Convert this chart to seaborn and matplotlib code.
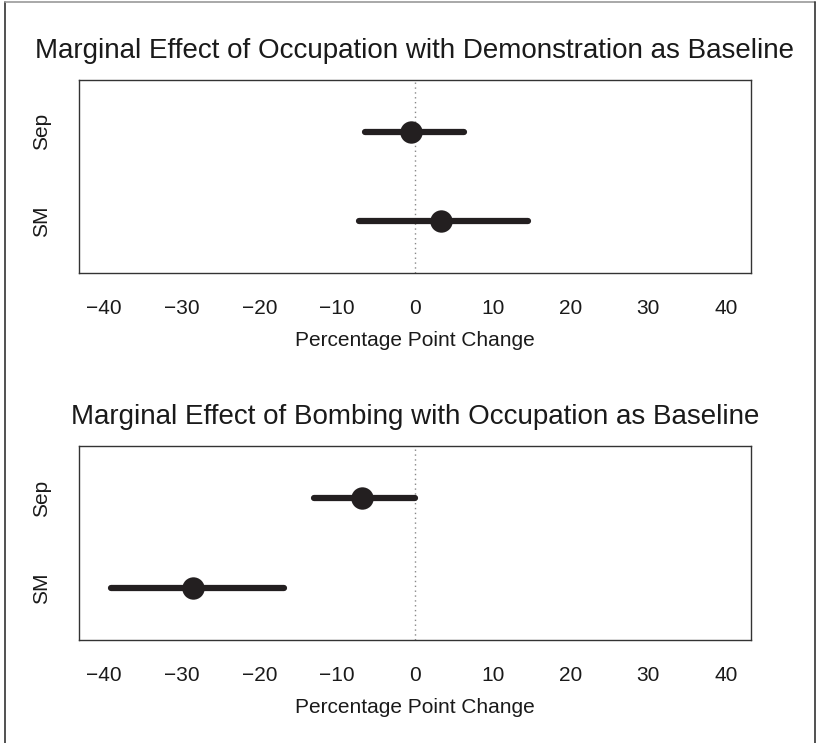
import matplotlib
matplotlib.use("Agg")
import matplotlib.pyplot as plt
from matplotlib.lines import Line2D
import seaborn as sns
import pandas as pd

# Estimates (percentage points) with confidence bounds, one list per panel
categories = ["SM", "Sep"]

occ_est = [3.4, -0.5]
occ_lo = [-7.2, -6.4]
occ_hi = [14.5, 6.3]

bomb_est = [-28.5, -6.8]
bomb_lo = [-39.1, -13.0]
bomb_hi = [-16.8, 0.0]

titles = [
    "Marginal Effect of Occupation with Demonstration as Baseline",
    "Marginal Effect of Bombing with Occupation as Baseline",
]
xticks = [-40, -30, -20, -10, 0, 10, 20, 30, 40]
xlabel = "Percentage Point Change"

sns.set_theme(style="white")
plt.rcParams["font.family"] = ["Liberation Sans", "DejaVu Sans"]

ink = "#231f20"
text_col = "#1a1a1a"

fig = plt.figure(figsize=(8.16, 7.43), dpi=100)
ax1 = fig.add_axes([0.0968, 0.6326, 0.8235, 0.2597])
ax2 = fig.add_axes([0.0968, 0.1386, 0.8235, 0.2611])

panels = [
    (ax1, occ_est, occ_lo, occ_hi, titles[0]),
    (ax2, bomb_est, bomb_lo, bomb_hi, titles[1]),
]

for ax, est, lo, hi, title in panels:
    df = pd.DataFrame({"cat": categories, "pos": [1, 2], "est": est,
                       "lo": lo, "hi": hi})
    ax.axvline(0, color="#888888", lw=1.0, ls=(0, (1, 2.5)), zorder=1)
    ax.hlines(df["pos"], df["lo"], df["hi"], color=ink, lw=4.5,
              capstyle="round", zorder=2)
    sns.scatterplot(data=df, x="est", y="pos", ax=ax, color=ink, s=260,
                    edgecolor=ink, linewidth=0, zorder=3, legend=False)
    ax.set_xlim(-43.2, 43.2)
    ax.set_ylim(0.42, 2.58)
    ax.set_xticks(xticks)
    ax.set_xticklabels([str(t).replace("-", "\u2212") for t in xticks])
    ax.set_yticks(df["pos"])
    ax.set_yticklabels(df["cat"], rotation=90, va="center")
    ax.set_xlabel(xlabel, fontsize=15, color=text_col, labelpad=9)
    ax.set_ylabel("")
    ax.tick_params(axis="x", direction="out", length=9, width=1,
                   color="#555555", labelsize=15, labelcolor=text_col, pad=10)
    ax.tick_params(axis="y", direction="out", length=9, width=1,
                   color="#555555", labelsize=15, labelcolor=text_col, pad=11)
    for sp in ax.spines.values():
        sp.set_color("#333333")
        sp.set_linewidth(1.0)
    ax.set_title(title, fontsize=20, color=text_col, pad=16)

# frame around the figure
fig.add_artist(Line2D([0.006, 0.006], [0.0, 0.997], color="#333333", lw=1.2,
                      transform=fig.transFigure))
fig.add_artist(Line2D([0.006, 0.999], [0.997, 0.997], color="#999999", lw=1.2,
                      transform=fig.transFigure))
fig.add_artist(Line2D([0.999, 0.999], [0.0, 0.997], color="#333333", lw=1.2,
                      transform=fig.transFigure))

fig.savefig("out.png", dpi=100, facecolor="white")
